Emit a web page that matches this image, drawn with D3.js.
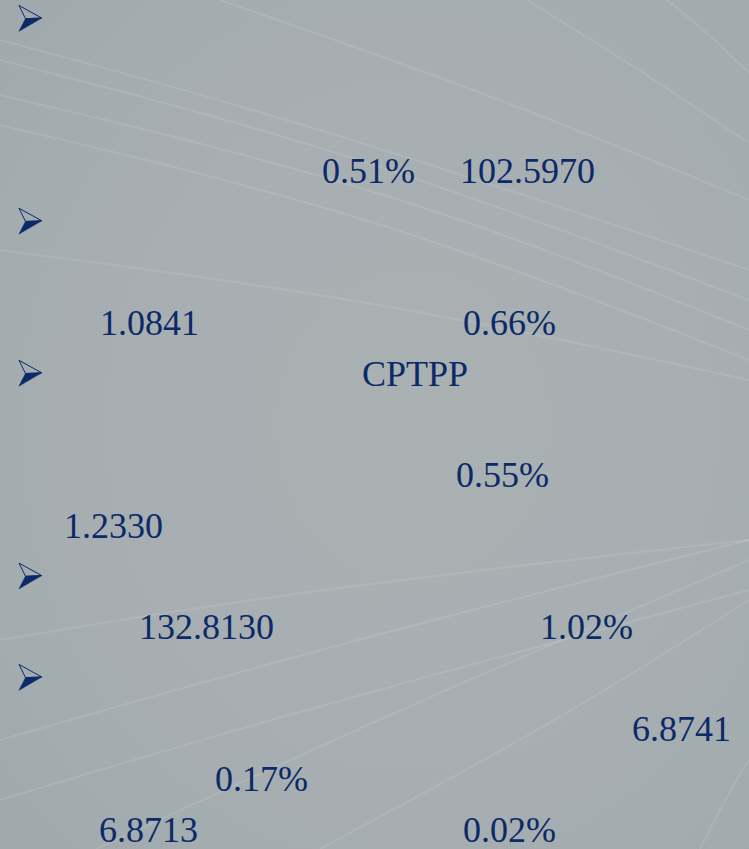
<!DOCTYPE html>
<html>
<head>
<meta charset="utf-8">
<script src="https://cdn.jsdelivr.net/npm/d3@7"></script>
<style>
html,body{margin:0;padding:0;background:#a5adb0;}
svg{display:block;}
</style>
</head>
<body>
<svg id="chart" width="749" height="849"></svg>
<script>
// ---- data ----
const bulletLines = [0, 4, 7, 11, 13];
const labelTexts = ["0.51%", "102.5970", "1.0841", "0.66%", "CPTPP", "0.55%", "1.2330", "132.8130", "1.02%", "6.8741", "0.17%", "6.8713", "0.02%"];
const labelLines = [3, 3, 6, 6, 7, 9, 10, 12, 12, 14, 15, 16, 16];
// layout (left edge of each label)
const labelX = [322, 460, 100, 463, 362, 456, 64, 139, 540, 632, 215, 99, 463];

const W = 749, H = 849;
const svg = d3.select("#chart");
const defs = svg.append("defs");

// background gradient
const bg = defs.append("radialGradient").attr("id", "bg")
  .attr("cx", "0.55").attr("cy", "0.5").attr("r", "0.75");
bg.append("stop").attr("offset", "0").attr("stop-color", "#aab1b3");
bg.append("stop").attr("offset", "0.6").attr("stop-color", "#a6aeb1");
bg.append("stop").attr("offset", "1").attr("stop-color", "#9fa9ad");
svg.append("rect").attr("width", W).attr("height", H).attr("fill", "url(#bg)");

// faint decorative streaks
const streaks = [
  [[0, 40], [300, 120], [749, 270]],
  [[0, 60], [350, 150], [749, 300]],
  [[0, 95], [400, 190], [749, 330]],
  [[0, 125], [380, 215], [749, 360]],
  [[220, 0], [480, 90], [749, 200]],
  [[527, 0], [640, 70], [749, 143]],
  [[667, 0], [710, 35], [749, 73]],
  [[0, 250], [380, 300], [749, 380]],
  [[96, 849], [420, 700], [749, 560]],
  [[320, 849], [560, 720], [749, 600]],
  [[700, 849], [730, 790], [749, 760]],
  [[0, 740], [350, 640], [749, 540]],
  [[0, 800], [300, 710], [749, 590]],
  [[0, 640], [300, 590], [749, 540]]
];
const line = d3.line().curve(d3.curveBasis);
svg.append("g").selectAll("path").data(streaks).join("path")
  .attr("d", d => line(d))
  .attr("fill", "none")
  .attr("stroke", "#ffffff")
  .attr("stroke-opacity", 0.1)
  .attr("stroke-width", 2);

// line scale: text line index -> baseline
const y = d3.scaleLinear().domain([0, 16]).range([31, 842]);

const navy = "#0c2968";

// bullets (3-D arrowhead)
const bullets = svg.append("g").selectAll("g").data(bulletLines).join("g")
  .attr("transform", d => `translate(19,${y(d) - 26})`);
bullets.append("path")
  .attr("d", "M0,0.5 L22.7,13 L6.5,13.7 Z")
  .attr("fill", "none").attr("stroke", navy).attr("stroke-width", 1);
bullets.append("path")
  .attr("d", "M6.5,13.7 L22.7,13 L0,26.3 Z")
  .attr("fill", navy).attr("stroke", navy).attr("stroke-width", 0.6);

// labels
svg.append("g").selectAll("text").data(labelTexts).join("text")
  .attr("x", (d, i) => labelX[i])
  .attr("y", (d, i) => y(labelLines[i]))
  .attr("font-family", "'Liberation Serif', 'Times New Roman', serif")
  .attr("font-size", 36)
  .attr("fill", navy)
  .text(d => d);
</script>
</body>
</html>
